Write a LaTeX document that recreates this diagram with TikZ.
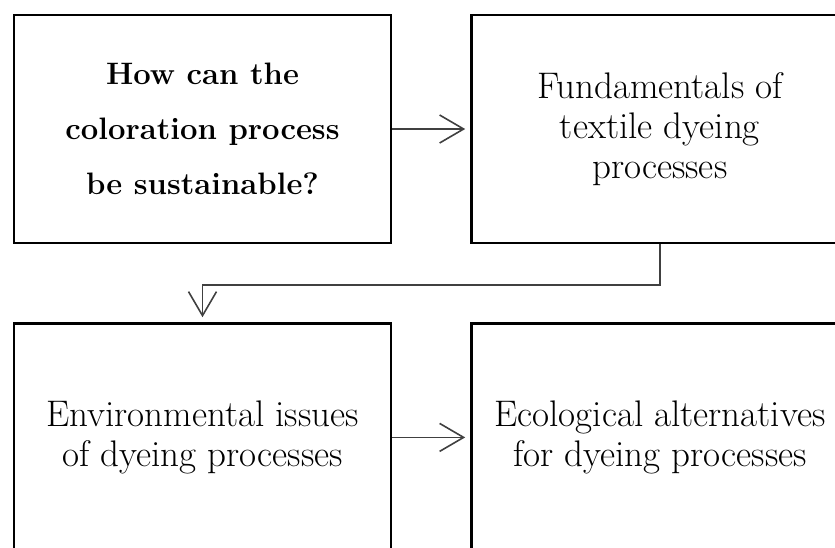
\documentclass[tikz,border=0pt]{standalone}
\usetikzlibrary{positioning,arrows.meta}

\tikzset{
  stage/.style={draw, line width=2.4pt, minimum width=377pt, minimum height=228pt,
    inner sep=0pt, align=center, font=\fontsize{37}{40}\selectfont},
  question/.style={stage, font=\fontsize{31}{55}\selectfont\bfseries},
  link/.style={line width=1.6pt, draw=black!75, shorten >=5pt,
    -{Straight Barb[length=24pt,width=28pt,line width=1.6pt]}}
}

\begin{document}
\begin{tikzpicture}[x=1pt,y=-1pt]
			\useasboundingbox (0,0) rectangle (835,547);
			\clip (0,0) rectangle (835,547);
			\node[question] (ask) at (202.5,129) {How can the\\coloration process\\be sustainable?};
			\node[stage, right=78pt of ask] (fundamentals) {Fundamentals of\\textile dyeing\\processes};
			\node[stage, below=78pt of ask] (issues) {Environmental issues\\of dyeing processes};
			\node[stage, right=78pt of issues] (alternatives) {Ecological alternatives\\for dyeing processes};
			\draw[link] (ask) -- (fundamentals);
			\draw[link] (fundamentals.south) -- ++(0,41) -| (issues.north);
			\draw[link] (issues) -- (alternatives);
		\end{tikzpicture}
\end{document}
